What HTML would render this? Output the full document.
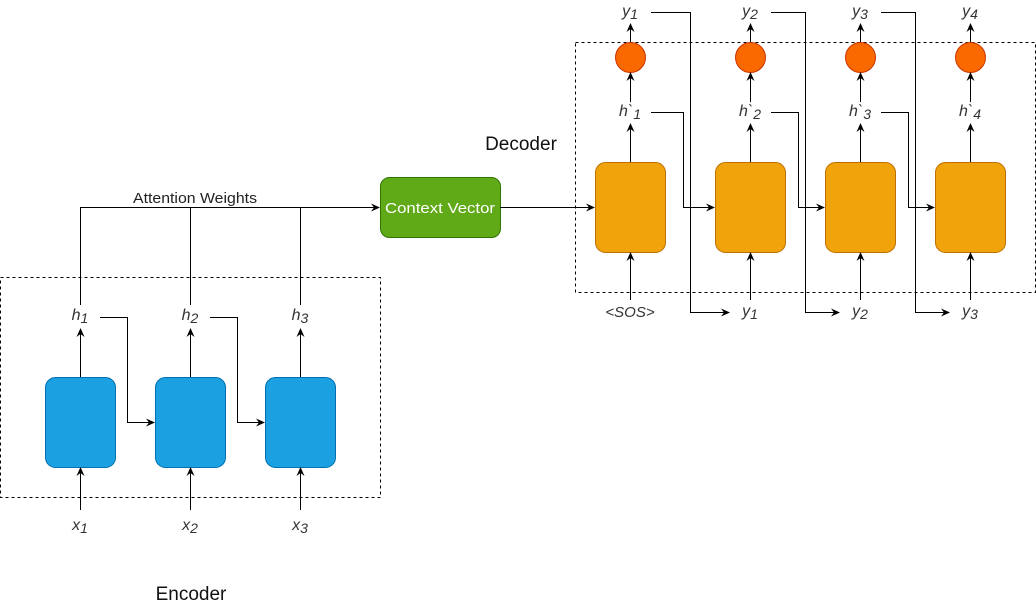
<!DOCTYPE html>
<html><head><meta charset="utf-8"><style>
html,body{margin:0;padding:0;background:#fff;}
svg{display:block;}
text{font-family:"Liberation Sans",sans-serif;}
.it{font-style:italic;font-size:16px;fill:#333;}
.sub{font-size:14px;}
</style></head><body>
<svg width="1036" height="608" viewBox="0 0 1036 608" xmlns="http://www.w3.org/2000/svg">
<defs>
<marker id="a" markerWidth="10" markerHeight="10" refX="8" refY="5" orient="auto" markerUnits="userSpaceOnUse">
<path d="M0,1 L9,5 L0,9 L3,5 Z" fill="#000"/></marker>
</defs>
<g fill="none" stroke="#000" stroke-width="1">
<rect x="0.5" y="277.5" width="380" height="220" stroke-dasharray="3,3"/>
<rect x="575.5" y="42.5" width="460" height="250" stroke-dasharray="3,3"/>
</g>
<g fill="#1ba1e2" stroke="#006eaf">
<rect x="45.5" y="377.5" width="70" height="90" rx="10"/>
<rect x="155.5" y="377.5" width="70" height="90" rx="10"/>
<rect x="265.5" y="377.5" width="70" height="90" rx="10"/>
</g>
<g fill="#f0a30a" stroke="#bd7000">
<rect x="595.5" y="162.5" width="70" height="90" rx="10"/>
<rect x="715.5" y="162.5" width="70" height="90" rx="10"/>
<rect x="825.5" y="162.5" width="70" height="90" rx="10"/>
<rect x="935.5" y="162.5" width="70" height="90" rx="10"/>
</g>
<g fill="#fa6800" stroke="#c73500">
<circle cx="630.5" cy="57.5" r="15"/><circle cx="750.5" cy="57.5" r="15"/>
<circle cx="860.5" cy="57.5" r="15"/><circle cx="970.5" cy="57.5" r="15"/>
</g>
<rect x="380.5" y="177.5" width="120" height="60" rx="9" fill="#60a917" stroke="#2d7600"/>
<text x="440" y="213" text-anchor="middle" fill="#fff" font-size="15" textLength="110" lengthAdjust="spacingAndGlyphs">Context Vector</text>
<g fill="none" stroke="#000" stroke-width="1">
<path d="M80.5,510 V468" marker-end="url(#a)"/><path d="M190.5,510 V468" marker-end="url(#a)"/><path d="M300.5,510 V468" marker-end="url(#a)"/>
<path d="M80.5,377 V329" marker-end="url(#a)"/><path d="M190.5,377 V329" marker-end="url(#a)"/><path d="M300.5,377 V329" marker-end="url(#a)"/>
<path d="M100,317.5 H127.5 V422.5 H154" marker-end="url(#a)"/>
<path d="M210,317.5 H237.5 V422.5 H264" marker-end="url(#a)"/>
<path d="M80.5,305 V207.5 H379" marker-end="url(#a)"/>
<path d="M190.5,305 V207.5"/><path d="M300.5,305 V207.5"/>
<path d="M500,207.5 H594" marker-end="url(#a)"/>
<path d="M630.5,300 V253" marker-end="url(#a)"/><path d="M750.5,300 V253" marker-end="url(#a)"/><path d="M860.5,300 V253" marker-end="url(#a)"/><path d="M970.5,300 V253" marker-end="url(#a)"/>
<path d="M630.5,162 V124" marker-end="url(#a)"/><path d="M750.5,162 V124" marker-end="url(#a)"/><path d="M860.5,162 V124" marker-end="url(#a)"/><path d="M970.5,162 V124" marker-end="url(#a)"/>
<path d="M630.5,102 V73" marker-end="url(#a)"/><path d="M750.5,102 V73" marker-end="url(#a)"/><path d="M860.5,102 V73" marker-end="url(#a)"/><path d="M970.5,102 V73" marker-end="url(#a)"/>
<path d="M630.5,42 V24" marker-end="url(#a)"/><path d="M750.5,42 V24" marker-end="url(#a)"/><path d="M860.5,42 V24" marker-end="url(#a)"/><path d="M970.5,42 V24" marker-end="url(#a)"/>
<path d="M651,112.5 H683.5 V207.5 H714" marker-end="url(#a)"/>
<path d="M771,112.5 H798.5 V207.5 H824" marker-end="url(#a)"/>
<path d="M881,112.5 H908.5 V207.5 H934" marker-end="url(#a)"/>
<path d="M651,12.5 H690.5 V312.5 H729" marker-end="url(#a)"/>
<path d="M771,12.5 H805.5 V312.5 H839" marker-end="url(#a)"/>
<path d="M881,12.5 H915.5 V312.5 H949" marker-end="url(#a)"/>
</g>
<text x="195" y="203" text-anchor="middle" font-size="15" fill="#222" textLength="124" lengthAdjust="spacingAndGlyphs">Attention Weights</text>
<text x="521" y="150" text-anchor="middle" font-size="19" fill="#111">Decoder</text>
<text x="191" y="600" text-anchor="middle" font-size="19" fill="#111">Encoder</text>
<g class="it" text-anchor="middle">
<text x="80" y="320">h<tspan class="sub" dy="3">1</tspan></text>
<text x="190" y="320">h<tspan class="sub" dy="3">2</tspan></text>
<text x="300" y="320">h<tspan class="sub" dy="3">3</tspan></text>
<text x="80" y="530">x<tspan class="sub" dy="3">1</tspan></text>
<text x="190" y="530">x<tspan class="sub" dy="3">2</tspan></text>
<text x="300" y="530">x<tspan class="sub" dy="3">3</tspan></text>
<text x="630" y="16">y<tspan class="sub" dy="3">1</tspan></text>
<text x="750" y="16">y<tspan class="sub" dy="3">2</tspan></text>
<text x="860" y="16">y<tspan class="sub" dy="3">3</tspan></text>
<text x="970" y="16">y<tspan class="sub" dy="3">4</tspan></text>
<text x="630" y="116">h`<tspan class="sub" dy="3">1</tspan></text>
<text x="750" y="116">h`<tspan class="sub" dy="3">2</tspan></text>
<text x="860" y="116">h`<tspan class="sub" dy="3">3</tspan></text>
<text x="970" y="116">h`<tspan class="sub" dy="3">4</tspan></text>
<text x="630" y="317" font-size="15">&lt;SOS&gt;</text>
<text x="750" y="316">y<tspan class="sub" dy="3">1</tspan></text>
<text x="860" y="316">y<tspan class="sub" dy="3">2</tspan></text>
<text x="970" y="316">y<tspan class="sub" dy="3">3</tspan></text>
</g>
</svg>
</body></html>
